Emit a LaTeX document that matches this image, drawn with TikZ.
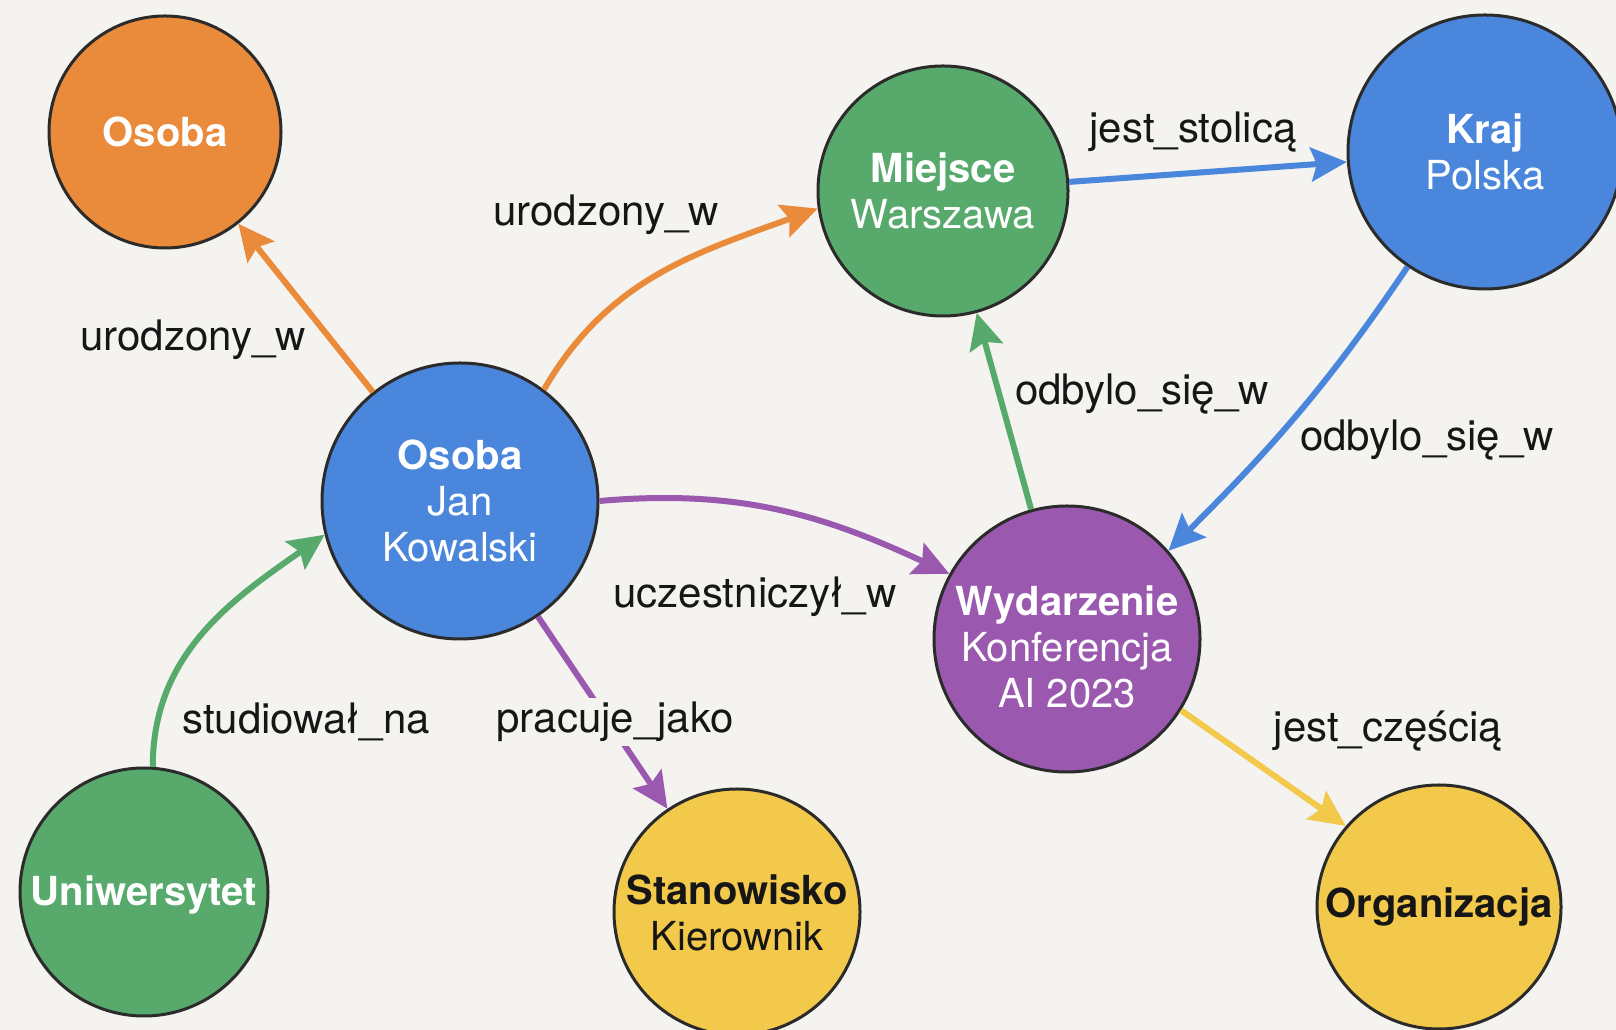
\documentclass[tikz,border=0pt]{standalone}
\usepackage{fontspec}
\setmainfont{TeX Gyre Heros}
\usetikzlibrary{arrows.meta}

\definecolor{bg}{HTML}{F4F3EF}
\definecolor{outline}{HTML}{2B2B2B}
\definecolor{ink}{HTML}{161616}
\definecolor{cOrange}{HTML}{E98B3A}
\definecolor{cGreen}{HTML}{58AA6C}
\definecolor{cBlue}{HTML}{4A86DC}
\definecolor{cPurple}{HTML}{9A58AF}
\definecolor{cYellow}{HTML}{F2C94A}

% centred stack of lines, drawn lower by the given amount without changing its box
\newcommand{\lowstack}[2]{\raisebox{-#1}[\height][\depth]{\begin{tabular}{@{}c@{}}#2\end{tabular}}}

\begin{document}
\begin{tikzpicture}[x=1pt,y=1pt,
  entity/.style={circle,draw=outline,line width=3pt,inner sep=0pt,align=center,
    font=\fontsize{40}{46}\selectfont,text=white},
  rel/.style={line width=6pt,-{Stealth[length=36pt,width=34pt,inset=6pt]}},
  lab/.style={font=\fontsize{42}{48}\selectfont,text=ink,inner sep=4pt}]

% canvas
\fill[bg] (0,0) rectangle (1616,1030);
\useasboundingbox (0,0) rectangle (1616,1030);

% entities
\node[entity,fill=cOrange,minimum size=232pt] (osoba) at (165,898) {\textbf{Osoba}};
\node[entity,fill=cGreen,minimum size=250pt] (mie) at (943,839) {\textbf{Miejsce}\\Warszawa};
\node[entity,fill=cBlue,minimum size=274pt] (kraj) at (1485,878) {\textbf{Kraj}\\Polska};
\node[entity,fill=cBlue,minimum size=276pt] (jk) at (460,529) {\textbf{Osoba}\\Jan\\Kowalski};
\node[entity,fill=cPurple,minimum size=266pt] (wyd) at (1067,391)
  {\lowstack{13pt}{\textbf{Wydarzenie}\\Konferencja\\AI 2023}};
\node[entity,fill=cGreen,minimum size=248pt] (uni) at (144,138) {\lowstack{4pt}{\textbf{Uniwersytet}}};
\node[entity,fill=cYellow,text=ink,minimum size=246pt] (stan) at (737,118)
  {\lowstack{6pt}{\textbf{Stanowisko}\\Kierownik}};
\node[entity,fill=cYellow,text=ink,minimum size=244pt] (org) at (1439,123) {\textbf{Organizacja}};

% relations
\draw[rel,cOrange] (jk) -- (osoba);
\draw[rel,cOrange] (jk.53) to[out=60,in=200] (mie.188);
\draw[rel,cBlue] (mie) -- (kraj);
\draw[rel,cBlue] (kraj.236) to[out=236,in=45] (wyd.41);
\draw[rel,cGreen] (wyd) -- (mie);
\draw[rel,cPurple] (jk.0) to[out=5,in=155] (wyd.151);
\draw[rel,cPurple] (jk) -- (stan);
\draw[rel,cGreen] (uni.86) to[out=90,in=215] (jk.194);
\draw[rel,cYellow] (wyd.-32) -- (org.139);

% relation labels
\node[lab] (l1) at (193,690) {urodzony\_w};
\node[lab] (l2) at (606,815) {urodzony\_w};
\node[lab] (l3) at (1193,898) {jest\_stolicą};
\node[lab] (l4) at (1142,636) {odbylo\_się\_w};
\node[lab] (l5) at (1427,590) {odbylo\_się\_w};
\node[lab] (l6) at (755,433) {uczestniczył\_w};
\node[lab] (l7) at (306,308) {studiował\_na};
\node[lab,fill=bg] (l8) at (615,308) {pracuje\_jako};
\node[lab] (l9) at (1388,299) {jest\_częścią};
\end{tikzpicture}
\end{document}
